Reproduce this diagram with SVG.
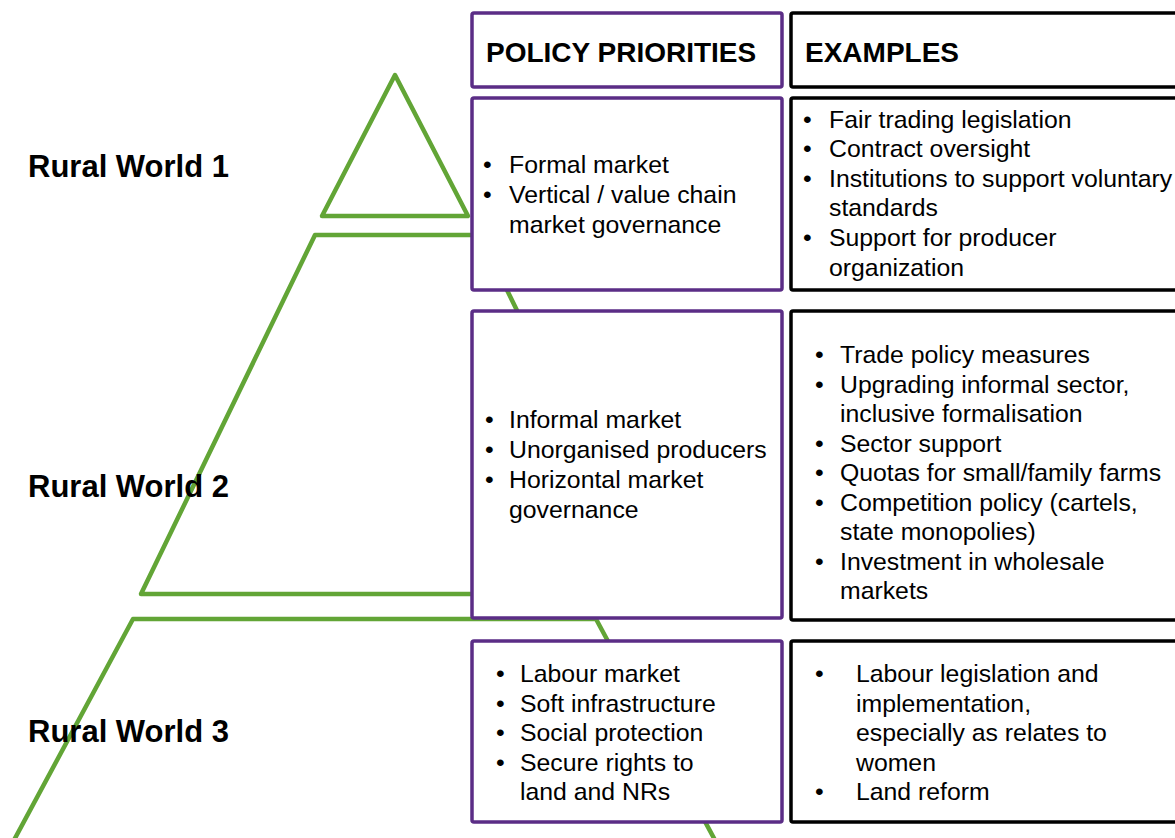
<svg xmlns="http://www.w3.org/2000/svg" width="1175" height="838" viewBox="0 0 1175 838">
<style>
.pyr{fill:#fff;stroke:#62a536;stroke-width:4.5;stroke-linejoin:round}
.pp{fill:#fff;stroke:#5b2d86;stroke-width:3.5}
.ex{fill:#fff;stroke:#000;stroke-width:3.5}
.hd{font-family:"Liberation Sans",Arial,sans-serif;font-weight:bold;font-size:28px;fill:#000}
.rw{font-family:"Liberation Sans",Arial,sans-serif;font-weight:bold;font-size:31px;fill:#000}
.t{font-family:"Liberation Sans",Arial,sans-serif;font-size:24.8px;fill:#000}
</style>
<rect width="1175" height="838" fill="#fff"/>
<g id="pyramid">
<polygon class="pyr" points="133,619 596,619 730,868 -1,868"/>
<polygon class="pyr" points="315,235 480,235 656,594 141,594"/>
<polygon class="pyr" points="395,75 468,216 322,216"/>
</g>
<g id="labels">
<text class="rw" x="28" y="177">Rural World 1</text>
<text class="rw" x="28" y="497">Rural World 2</text>
<text class="rw" x="28" y="742">Rural World 3</text>
</g>
<g id="header-pp">
<rect class="pp" x="472" y="13" width="310" height="74" rx="2"/>
<text class="hd" x="486" y="62">POLICY PRIORITIES</text>
</g>
<g id="header-ex">
<rect class="ex" x="791" y="13" width="400" height="74" rx="2"/>
<text class="hd" x="805" y="62">EXAMPLES</text>
</g>
<g id="pp1">
<rect class="pp" x="472" y="98" width="310" height="192" rx="2"/>
<text class="t"><tspan x="483" y="173">•</tspan><tspan x="509" y="173">Formal market</tspan>
<tspan x="483" y="203">•</tspan><tspan x="509" y="203">Vertical / value chain</tspan>
<tspan x="509" y="233">market governance</tspan></text>
</g>
<g id="ex1">
<rect class="ex" x="791" y="98" width="400" height="192" rx="2"/>
<text class="t"><tspan x="803" y="127.5">•</tspan><tspan x="829" y="127.5">Fair trading legislation</tspan>
<tspan x="803" y="157.1">•</tspan><tspan x="829" y="157.1">Contract oversight</tspan>
<tspan x="803" y="186.7">•</tspan><tspan x="829" y="186.7">Institutions to support voluntary</tspan>
<tspan x="829" y="216.3">standards</tspan>
<tspan x="803" y="245.9">•</tspan><tspan x="829" y="245.9">Support for producer</tspan>
<tspan x="829" y="275.5">organization</tspan></text>
</g>
<g id="pp2">
<rect class="pp" x="472" y="311" width="310" height="307" rx="2"/>
<text class="t"><tspan x="485" y="428">•</tspan><tspan x="509" y="428">Informal market</tspan>
<tspan x="485" y="458">•</tspan><tspan x="509" y="458">Unorganised producers</tspan>
<tspan x="485" y="488">•</tspan><tspan x="509" y="488">Horizontal market</tspan>
<tspan x="509" y="518">governance</tspan></text>
</g>
<g id="ex2">
<rect class="ex" x="791" y="311" width="400" height="309" rx="2"/>
<text class="t"><tspan x="815" y="363">•</tspan><tspan x="840" y="363">Trade policy measures</tspan>
<tspan x="815" y="392.5">•</tspan><tspan x="840" y="392.5">Upgrading informal sector,</tspan>
<tspan x="840" y="422">inclusive formalisation</tspan>
<tspan x="815" y="451.5">•</tspan><tspan x="840" y="451.5">Sector support</tspan>
<tspan x="815" y="481">•</tspan><tspan x="840" y="481">Quotas for small/family farms</tspan>
<tspan x="815" y="510.5">•</tspan><tspan x="840" y="510.5">Competition policy (cartels,</tspan>
<tspan x="840" y="540">state monopolies)</tspan>
<tspan x="815" y="569.5">•</tspan><tspan x="840" y="569.5">Investment in wholesale</tspan>
<tspan x="840" y="599">markets</tspan></text>
</g>
<g id="pp3">
<rect class="pp" x="472" y="641" width="310" height="181" rx="2"/>
<text class="t"><tspan x="496" y="682">•</tspan><tspan x="520" y="682">Labour market</tspan>
<tspan x="496" y="711.5">•</tspan><tspan x="520" y="711.5">Soft infrastructure</tspan>
<tspan x="496" y="741">•</tspan><tspan x="520" y="741">Social protection</tspan>
<tspan x="496" y="770.5">•</tspan><tspan x="520" y="770.5">Secure rights to</tspan>
<tspan x="520" y="800">land and NRs</tspan></text>
</g>
<g id="ex3">
<rect class="ex" x="791" y="641" width="400" height="181" rx="2"/>
<text class="t"><tspan x="815" y="682">•</tspan><tspan x="856" y="682">Labour legislation and</tspan>
<tspan x="856" y="711.5">implementation,</tspan>
<tspan x="856" y="741">especially as relates to</tspan>
<tspan x="856" y="770.5">women</tspan>
<tspan x="815" y="800">•</tspan><tspan x="856" y="800">Land reform</tspan></text>
</g>
</svg>
